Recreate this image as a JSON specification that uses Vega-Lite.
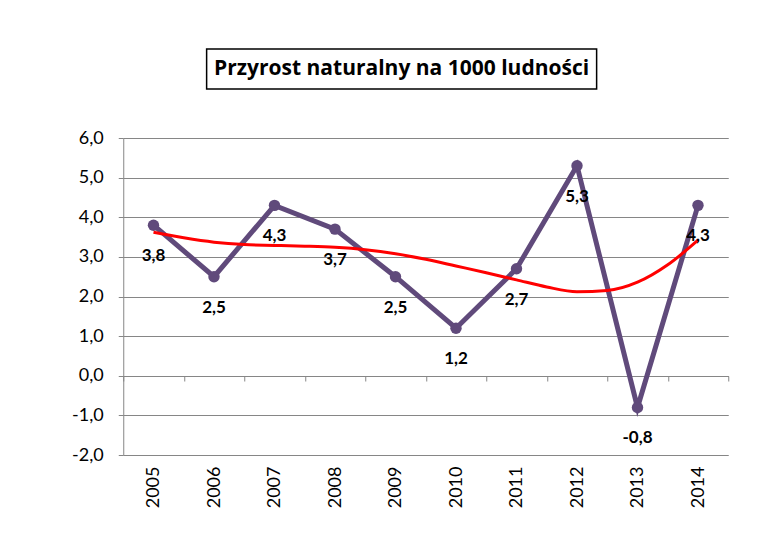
{
  "$schema": "https://vega.github.io/schema/vega-lite/v6.json",
  "background": "white",
  "padding": {"left": 71, "top": 48, "right": 10, "bottom": 5},
  "config": {
    "view": {"stroke": null},
    "font": "Lato",
    "locale": {"number": {"decimal": ",", "thousands": " ", "grouping": [3], "currency": ["", " zł"], "minus": "-"}}
  },
  "datasets": {
    "values": [
      {"year": 2005, "v": 3.8},
      {"year": 2006, "v": 2.5},
      {"year": 2007, "v": 4.3},
      {"year": 2008, "v": 3.7},
      {"year": 2009, "v": 2.5},
      {"year": 2010, "v": 1.2},
      {"year": 2011, "v": 2.7},
      {"year": 2012, "v": 5.3},
      {"year": 2013, "v": -0.8},
      {"year": 2014, "v": 4.3}
    ],
    "trend": [
      {"year": 2005, "v": 3.62},
      {"year": 2005.5, "v": 3.48},
      {"year": 2006, "v": 3.37},
      {"year": 2006.5, "v": 3.31},
      {"year": 2007, "v": 3.29},
      {"year": 2007.5, "v": 3.27},
      {"year": 2008, "v": 3.24},
      {"year": 2008.5, "v": 3.18},
      {"year": 2009, "v": 3.08},
      {"year": 2009.5, "v": 2.94},
      {"year": 2010, "v": 2.77},
      {"year": 2010.5, "v": 2.6},
      {"year": 2011, "v": 2.42},
      {"year": 2011.5, "v": 2.24},
      {"year": 2012, "v": 2.12},
      {"year": 2012.5, "v": 2.15},
      {"year": 2013, "v": 2.36},
      {"year": 2013.5, "v": 2.8},
      {"year": 2014, "v": 3.42}
    ]
  },
  "center": true,
  "spacing": 39,
  "vconcat": [
    {
      "width": 390,
      "height": 40,
      "view": {"stroke": "black", "strokeWidth": 1.5},
      "data": {"values": [{"t": "Przyrost naturalny  na 1000 ludności"}]},
      "mark": {"type": "text", "fontSize": 21, "fontWeight": "bold", "font": "Open Sans", "color": "black", "baseline": "middle", "align": "center"},
      "encoding": {
        "text": {"field": "t"},
        "y": {
          "field": "t",
          "type": "nominal",
          "axis": {"orient": "right", "labels": false, "domain": false, "ticks": true, "tickSize": 48, "tickOpacity": 0, "title": null, "grid": false}
        }
      }
    },
    {
      "width": 605,
      "height": 317,
      "encoding": {
        "y": {
          "field": "v",
          "type": "quantitative",
          "scale": {"domain": [-2, 6], "nice": false, "zero": false},
          "axis": {
            "values": [-2, -1, 0, 1, 2, 3, 4, 5, 6],
            "format": ".1f",
            "title": null,
            "grid": true,
            "gridColor": "#868686",
            "gridOpacity": 1,
            "domainColor": "#868686",
            "tickColor": "#868686",
            "tickSize": 5,
            "labelFontSize": 18,
            "labelColor": "black",
            "labelPadding": 15,
            "labelFont": "Lato"
          }
        }
      },
      "layer": [
        {
          "data": {"name": "values"},
          "mark": {"type": "line", "color": "#604A7B", "strokeWidth": 5, "point": {"filled": true, "size": 130, "color": "#604A7B"}},
          "encoding": {
            "x": {
              "field": "year",
              "type": "quantitative",
              "scale": {"domain": [2004.5, 2014.5], "nice": false, "zero": false},
              "axis": {
                "orient": "bottom",
                "values": [2005, 2006, 2007, 2008, 2009, 2010, 2011, 2012, 2013, 2014],
                "format": "d",
                "labelAngle": 270,
                "ticks": false,
                "domain": false,
                "grid": false,
                "title": null,
                "labelFontSize": 18,
                "labelPadding": 11,
                "labelColor": "black",
                "labelFont": "Lato"
              }
            }
          }
        },
        {
          "data": {"name": "trend"},
          "mark": {"type": "line", "color": "#FF0000", "strokeWidth": 3, "interpolate": "monotone"},
          "encoding": {
            "x": {
              "field": "year",
              "type": "quantitative",
              "axis": {
                "orient": "bottom",
                "values": [2004.5, 2005.5, 2006.5, 2007.5, 2008.5, 2009.5, 2010.5, 2011.5, 2012.5, 2013.5, 2014.5],
                "labels": false,
                "ticks": true,
                "tickSize": 5,
                "tickColor": "#868686",
                "domain": true,
                "domainColor": "#868686",
                "offset": -79,
                "grid": false,
                "title": null
              }
            }
          }
        },
        {
          "data": {"name": "values"},
          "mark": {"type": "text", "dy": 31, "fontSize": 17, "fontWeight": "bold", "font": "Lato", "color": "black"},
          "encoding": {
            "x": {"field": "year", "type": "quantitative", "axis": null},
            "text": {"field": "v", "type": "quantitative", "format": ".1f"}
          }
        }
      ],
      "resolve": {"axis": {"x": "independent"}}
    }
  ]
}
